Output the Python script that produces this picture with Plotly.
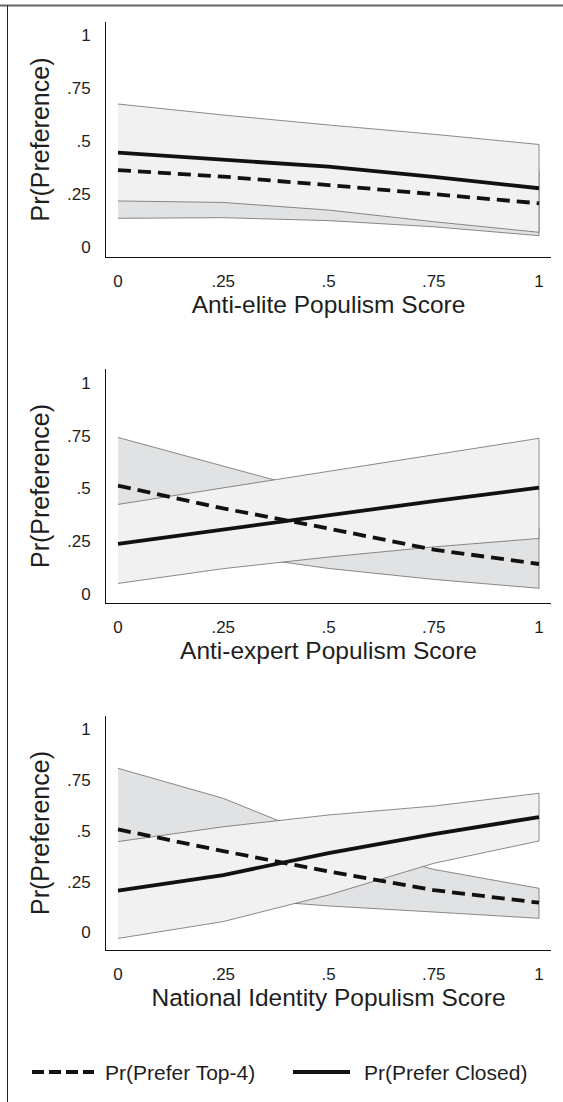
import plotly.graph_objects as go

# ---------------- data ----------------
scores = [0, 0.25, 0.5, 0.75, 1]
x_titles = ["Anti-elite Populism Score", "Anti-expert Populism Score", "National Identity Populism Score"]
series_names = ["Pr(Prefer Top-4)", "Pr(Prefer Closed)"]
y_tickvals = [0, 0.25, 0.5, 0.75, 1]
y_ticktext = ["0", ".25", ".5", ".75", "1"]
x_tickvals = [0, 0.25, 0.5, 0.75, 1]
x_ticktext = ["0", ".25", ".5", ".75", "1"]

# Panel 1: anti-elite
top4_p1 = [0.362, 0.331, 0.291, 0.247, 0.205]
top4_lo_p1 = [0.134, 0.137, 0.123, 0.094, 0.052]
top4_hi_p1 = [0.590, 0.525, 0.460, 0.400, 0.357]
closed_p1 = [0.444, 0.413, 0.378, 0.330, 0.276]
closed_lo_p1 = [0.216, 0.209, 0.173, 0.118, 0.068]
closed_hi_p1 = [0.674, 0.622, 0.575, 0.531, 0.483]

# Panel 2: anti-expert
top4_p2 = [0.513, 0.405, 0.310, 0.210, 0.142]
top4_lo_p2 = [0.300, 0.190, 0.121, 0.069, 0.027]
top4_hi_p2 = [0.741, 0.604, 0.470, 0.390, 0.310]
closed_p2 = [0.237, 0.305, 0.372, 0.440, 0.503]
closed_lo_p2 = [0.050, 0.120, 0.175, 0.223, 0.263]
closed_hi_p2 = [0.424, 0.502, 0.580, 0.658, 0.737]

# Panel 3: national identity
top4_p3 = [0.507, 0.400, 0.300, 0.208, 0.146]
top4_lo_p3 = [0.250, 0.170, 0.130, 0.100, 0.069]
top4_hi_p3 = [0.808, 0.660, 0.450, 0.310, 0.217]
closed_p3 = [0.205, 0.282, 0.390, 0.484, 0.568]
closed_lo_p3 = [-0.030, 0.053, 0.184, 0.340, 0.450]
closed_hi_p3 = [0.447, 0.520, 0.578, 0.622, 0.685]

panels = [
    (top4_p1, top4_lo_p1, top4_hi_p1, closed_p1, closed_lo_p1, closed_hi_p1),
    (top4_p2, top4_lo_p2, top4_hi_p2, closed_p2, closed_lo_p2, closed_hi_p2),
    (top4_p3, top4_lo_p3, top4_hi_p3, closed_p3, closed_lo_p3, closed_hi_p3),
]

# ---------------- layout constants ----------------
W, H = 563, 1102
FONT = "Arial, 'Liberation Sans', Helvetica, sans-serif"
DARK_FILL = "#e1e2e4"
LIGHT_FILL = "#f1f1f1"
EDGE = "#5a5a5a"
TXT = "#1e1e1e"

x_dom = [106 / W, 551 / W]
y_doms_px = [(22, 257), (369, 603), (716, 950)]
y_ranges = [[-0.0487, 1.0614], [-0.0426, 1.065], [-0.087, 1.0655]]
x_range = [-0.0285, 1.0285]

fig = go.Figure()

for i, (t4, t4lo, t4hi, cl, cllo, clhi) in enumerate(panels):
    ax = "" if i == 0 else str(i + 1)
    xa, ya = "x" + ax, "y" + ax
    # Top-4 CI (darker, underneath)
    fig.add_trace(go.Scatter(
        x=scores + scores[::-1], y=t4hi + t4lo[::-1], fill="toself",
        fillcolor=DARK_FILL, line=dict(color=EDGE, width=0.7), mode="lines",
        showlegend=False, hoverinfo="skip", xaxis=xa, yaxis=ya))
    # Closed CI (lighter, on top)
    fig.add_trace(go.Scatter(
        x=scores + scores[::-1], y=clhi + cllo[::-1], fill="toself",
        fillcolor=LIGHT_FILL, line=dict(color=EDGE, width=0.7), mode="lines",
        showlegend=False, hoverinfo="skip", xaxis=xa, yaxis=ya))
    fig.add_trace(go.Scatter(
        x=scores, y=t4, mode="lines", name=series_names[0],
        line=dict(color="#111111", width=3.8, dash="13px,7px"),
        showlegend=False, xaxis=xa, yaxis=ya))
    fig.add_trace(go.Scatter(
        x=scores, y=cl, mode="lines", name=series_names[1],
        line=dict(color="#111111", width=3.8),
        showlegend=False, xaxis=xa, yaxis=ya))

    top_px, bot_px = y_doms_px[i]
    fig.layout["xaxis" + ax] = dict(
        domain=x_dom, range=x_range, tickvals=x_tickvals, ticktext=x_ticktext,
        showgrid=False, zeroline=False, showline=True, linecolor="#111111", linewidth=1,
        ticks="", ticklabelstandoff=9, tickfont=dict(family=FONT, size=17, color=TXT),
        title=dict(text=x_titles[i], font=dict(family=FONT, size=24.5, color=TXT), standoff=5),
        automargin=False, anchor=ya, fixedrange=True,
    )
    fig.layout["yaxis" + ax] = dict(
        domain=[1 - bot_px / H, 1 - top_px / H], range=y_ranges[i],
        tickvals=y_tickvals, ticktext=y_ticktext,
        showgrid=False, zeroline=False, showline=True, linecolor="#111111", linewidth=1,
        ticks="", ticklabelstandoff=11, tickfont=dict(family=FONT, size=17, color=TXT),
        title=dict(text="Pr(Preference)", font=dict(family=FONT, size=25, color=TXT), standoff=10),
        automargin=False, anchor=xa, fixedrange=True,
    )

# legend (drawn manually to match the long line samples)
leg_y = 1 - 1072 / H
fig.add_shape(type="line", xref="paper", yref="paper", x0=32 / W, x1=94 / W, y0=leg_y, y1=leg_y,
              line=dict(color="#111111", width=4, dash="12px,5px"))
fig.add_shape(type="line", xref="paper", yref="paper", x0=293 / W, x1=350 / W, y0=leg_y, y1=leg_y,
              line=dict(color="#111111", width=4))
fig.add_annotation(xref="paper", yref="paper", x=103 / W, y=leg_y, text=series_names[0],
                   showarrow=False, xanchor="left", yanchor="middle",
                   font=dict(family=FONT, size=21, color=TXT))
fig.add_annotation(xref="paper", yref="paper", x=362 / W, y=leg_y, text=series_names[1],
                   showarrow=False, xanchor="left", yanchor="middle",
                   font=dict(family=FONT, size=21, color=TXT))

# outer frame (top and left edges visible)
fig.add_shape(type="line", xref="paper", yref="paper", x0=0, x1=1, y0=1 - 5.5 / H, y1=1 - 5.5 / H,
              line=dict(color="#666666", width=2))
fig.add_shape(type="line", xref="paper", yref="paper", x0=7.5 / W, x1=7.5 / W, y0=0, y1=1 - 5.5 / H,
              line=dict(color="#222222", width=1))

fig.update_layout(
    width=W, height=H, margin=dict(l=0, r=0, t=0, b=0),
    paper_bgcolor="white", plot_bgcolor="white", showlegend=False,
    font=dict(family=FONT),
)

fig.write_html("out.html", config={"displayModeBar": False, "staticPlot": True},
               post_script="document.body.style.margin='0px';")
